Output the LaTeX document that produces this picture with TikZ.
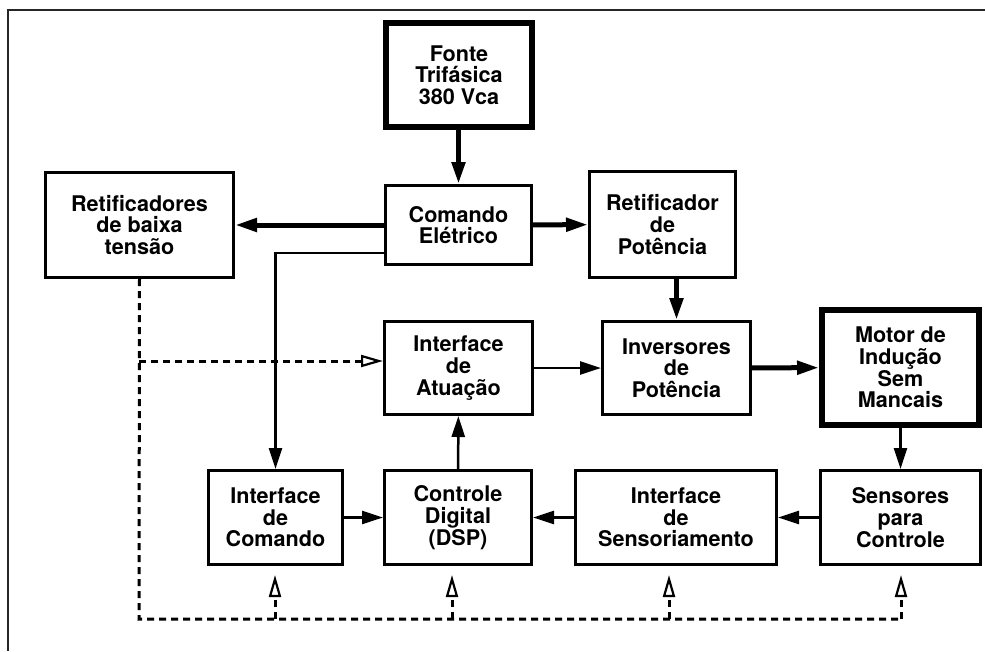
\documentclass[tikz,border=0pt]{standalone}
\usepackage{fontspec}
\setmainfont{TeX Gyre Heros}
\usetikzlibrary{arrows.meta}
\begin{document}
\begin{tikzpicture}[x=1pt,y=-1pt,
 blk/.style={draw, line width=3pt, align=center, inner sep=0pt,
   font=\bfseries\fontsize{21.6}{21.7}\selectfont},
 heavy/.style={blk, line width=6pt},
 thinarr/.style={line width=2.5pt, -{Triangle[length=21pt,width=13pt]}},
 thickarr/.style={line width=5pt, -{Triangle[length=22pt,width=13pt]}},
 dsh/.style={line width=3pt, dash pattern=on 7pt off 5pt},
 openarr/.style={dsh, -{Triangle[open,length=22pt,width=12pt,line width=2.2pt]}},
]
\useasboundingbox (0,0) rectangle (985,651);
\draw[line width=1.2pt, black!85] (8,651) -- (8,10) -- (985,10);

\node[heavy, minimum width=146pt, minimum height=104pt] (fonte) at (459,75) {Fonte\\Trifásica\\380 Vca};
\node[blk, minimum width=188pt, minimum height=105pt] (rbt) at (139.5,225) {Retificadores\\de baixa\\tensão};
\node[blk, minimum width=146pt, minimum height=79pt] (ce) at (458.5,225) {Comando\\Elétrico};
\node[blk, minimum width=146pt, minimum height=106pt] (rp) at (662.5,224.5) {Retificador\\de\\Potência};
\node[blk, minimum width=148pt, minimum height=93pt] (ia) at (458.5,368) {Interface\\de\\Atuação};
\node[blk, minimum width=148pt, minimum height=93pt] (inv) at (676.5,368) {Inversores\\de\\Potência};
\node[heavy, minimum width=157pt, minimum height=115pt] (motor) at (900.5,367.5) {Motor de\\Indução\\Sem\\Mancais};
\node[blk, minimum width=134pt, minimum height=94pt] (icm) at (275.5,517.5) {Interface\\de\\Comando};
\node[blk, minimum width=147pt, minimum height=94pt] (cd) at (458,517.5) {Controle\\Digital\\(DSP)};
\node[blk, minimum width=201pt, minimum height=94pt] (is) at (676,517.5) {Interface\\de\\Sensoriamento};
\node[blk, minimum width=160pt, minimum height=94pt] (sc) at (900.5,517.5) {Sensores\\para\\Controle};

% power / signal connectors
\draw[thickarr] (fonte.south -| ce.north) -- (ce.north);
\draw[thickarr] (ce) -- (rbt);
\draw[thickarr] (ce) -- (rp);
\draw[thickarr] (rp.south -| inv.north) -- (inv.north);
\draw[thickarr] (inv) -- (motor);
\draw[thinarr] (ia) -- (inv);
\draw[thinarr] (cd) -- (ia);
\draw[thinarr] (motor) -- (sc);
\draw[thinarr] (sc) -- (is);
\draw[thinarr] (is) -- (cd);
\draw[thinarr] (icm) -- (cd);
\draw[thinarr] ([yshift=-28pt]ce.west) -| (icm.north);

% dashed supply bus
\coordinate (j1) at (139,361);
\coordinate (b0) at (139,619);
\coordinate (b1) at (275,619);
\coordinate (b2) at (452,619);
\coordinate (b3) at (669,619);
\coordinate (b4) at (901,619);
\coordinate (t1) at (275,575);
\coordinate (t2) at (452,575);
\coordinate (t3) at (669,575);
\coordinate (t4) at (901,575);
\draw[dsh] (rbt.south) -- (b0) -- (b4);
\draw[openarr] (j1) -- ([yshift=7pt]ia.west);
\draw[openarr] (b1) -- (t1);
\draw[openarr] (b2) -- (t2);
\draw[openarr] (b3) -- (t3);
\draw[openarr] (b4) -- (t4);
\end{tikzpicture}
\end{document}
